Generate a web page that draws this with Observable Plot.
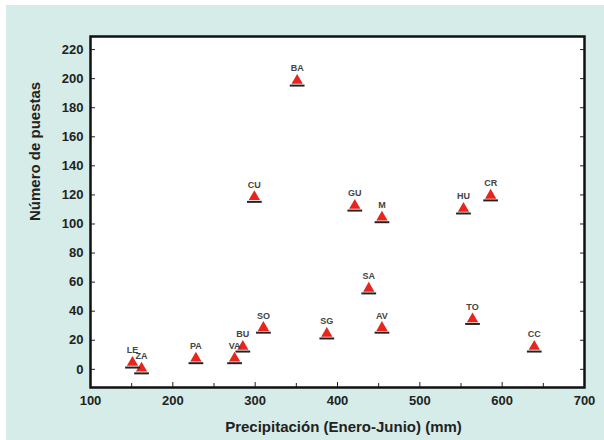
<!DOCTYPE html>
<html>
<head>
<meta charset="utf-8">
<script src="https://cdn.jsdelivr.net/npm/d3@7"></script>
<script src="https://cdn.jsdelivr.net/npm/@observablehq/plot@0.6"></script>
<style>
  html, body { margin: 0; padding: 0; background: #ffffff; }
  #wrap { position: absolute; left: 6px; top: 5px; width: 598px; height: 435px; background: #d6ece8; }
  svg { font-family: "Liberation Sans", Arial, sans-serif; }
</style>
</head>
<body>
<div id="wrap"></div>
<script>
// Data
const sites    = ["LE","ZA","PA","VA","BU","SO","SG","AV","SA","TO","CC","CU","GU","M","HU","CR","BA"];
const precip   = [151, 162, 228, 275, 285, 310, 387, 454, 438, 564, 639, 299, 421, 454, 553, 586, 351];
const puestas  = [4,   0,   7,   7,   15,  28,  24,  28,  55,  34,  15,  118, 112, 104, 110, 119, 198];
const xTicks   = [100, 200, 300, 400, 500, 600, 700];
const xMinor   = [150, 250, 350, 450, 550, 650];
const yTicks   = [0, 20, 40, 60, 80, 100, 120, 140, 160, 180, 200, 220];

const data = sites.map((s, i) => ({site: s, x: precip[i], y: puestas[i]}));

// dark base line under each triangle marker
const triBase = {
  draw(ctx, size) {
    const r = Math.sqrt(size) * 0.9;
    ctx.moveTo(-r * 1.1, r * 0.75);
    ctx.lineTo(r * 1.1, r * 0.75);
  }
};

const chart = Plot.plot({
  width: 598,
  height: 435,
  marginLeft: 84,
  marginRight: 20,
  marginTop: 31,
  marginBottom: 53,
  style: {background: "transparent", fontSize: "12px", color: "#111"},
  x: {domain: [100, 700], label: null},
  y: {domain: [-12.5, 229], label: null},
  marks: [
    Plot.frame({fill: "white"}),
    Plot.axisX({ticks: xTicks, tickSize: -5, tickPadding: 13, fontWeight: "bold", fontSize: 13, stroke: "#222", fill: "#222"}),
    Plot.axisX({ticks: xMinor, tickSize: -4, tickFormat: () => "", stroke: "#222"}),
    Plot.axisY({ticks: yTicks, tickSize: -5, tickPadding: 12, fontWeight: "bold", fontSize: 13, stroke: "#222", fill: "#222"}),
    Plot.axisY({ticks: yTicks, anchor: "right", tickSize: -5, tickFormat: () => "", stroke: "#222"}),
    Plot.frame({stroke: "#111", strokeWidth: 2.5}),
    Plot.dot(data, {x: "x", y: "y", symbol: "triangle", r: 4.2, fill: "#e8241c", stroke: "none", dy: -1}),
    Plot.dot(data, {x: "x", y: "y", symbol: triBase, r: 4.2, stroke: "#222", strokeWidth: 2, fill: "none", dy: -1}),
    Plot.text(data, {x: "x", y: "y", text: "site", dy: -13, fontSize: 9, fill: "#444", fontWeight: "bold"}),
    Plot.text(["Precipitación (Enero-Junio) (mm)"], {frameAnchor: "bottom", dy: 44, dx: 6, fontSize: 15, fontWeight: "bold", fill: "#222"}),
    Plot.text(["Número de puestas"], {frameAnchor: "left", dx: -55, dy: 9, rotate: -90, fontSize: 15, fontWeight: "bold", fill: "#222"})
  ]
});
document.getElementById("wrap").appendChild(chart);
</script>
</body>
</html>
